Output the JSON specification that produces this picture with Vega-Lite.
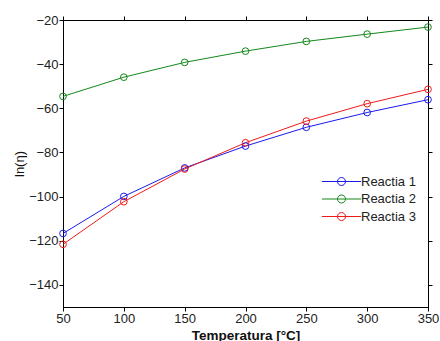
{
  "$schema": "https://vega.github.io/schema/vega-lite/v6.json",
  "width": 365,
  "height": 287,
  "autosize": "none",
  "padding": {"left": 63, "top": 20, "right": 12, "bottom": 34},
  "background": "white",
  "config": {
    "view": {"stroke": "black", "strokeWidth": 1},
    "font": "Liberation Sans",
    "axis": {"grid": false, "labelFlush": false, "domainColor": "black", "tickColor": "black", "labelColor": "#222", "labelFontSize": 13, "titleFontSize": 13, "titleFontWeight": "normal", "titleColor": "#111"}
  },
  "resolve": {"axis": {"x": "independent", "y": "independent"}},
  "data": {"values": [
    {"T": 50, "v": -116.7, "s": "Reactia 1"},
    {"T": 100, "v": -99.9, "s": "Reactia 1"},
    {"T": 150, "v": -87.0, "s": "Reactia 1"},
    {"T": 200, "v": -77.1, "s": "Reactia 1"},
    {"T": 250, "v": -68.6, "s": "Reactia 1"},
    {"T": 300, "v": -61.9, "s": "Reactia 1"},
    {"T": 350, "v": -56.1, "s": "Reactia 1"},
    {"T": 50, "v": -54.6, "s": "Reactia 2"},
    {"T": 100, "v": -45.9, "s": "Reactia 2"},
    {"T": 150, "v": -39.2, "s": "Reactia 2"},
    {"T": 200, "v": -34.1, "s": "Reactia 2"},
    {"T": 250, "v": -29.7, "s": "Reactia 2"},
    {"T": 300, "v": -26.4, "s": "Reactia 2"},
    {"T": 350, "v": -23.2, "s": "Reactia 2"},
    {"T": 50, "v": -121.6, "s": "Reactia 3"},
    {"T": 100, "v": -102.3, "s": "Reactia 3"},
    {"T": 150, "v": -87.5, "s": "Reactia 3"},
    {"T": 200, "v": -75.6, "s": "Reactia 3"},
    {"T": 250, "v": -65.8, "s": "Reactia 3"},
    {"T": 300, "v": -57.9, "s": "Reactia 3"},
    {"T": 350, "v": -51.4, "s": "Reactia 3"}
  ]},
  "layer": [
    {
      "mark": {"type": "line", "opacity": 0},
      "encoding": {
        "x": {"field": "T", "type": "quantitative", "scale": {"domain": [50, 350], "nice": false, "zero": false},
          "axis": {"orient": "bottom", "values": [50, 100, 150, 200, 250, 300, 350], "tickSize": 4, "labelPadding": 1, "title": "Temperatura [°C]", "titleFontWeight": "bold", "titleFontSize": 13.5, "titlePadding": 3}},
        "y": {"field": "v", "type": "quantitative", "scale": {"domain": [-150, -20], "nice": false, "zero": false},
          "axis": {"orient": "left", "values": [-140, -120, -100, -80, -60, -40, -20], "tickSize": 4, "labelPadding": 1, "title": "ln(η)", "titlePadding": 2}}
      }
    },
    {
      "mark": {"type": "line", "opacity": 0},
      "encoding": {
        "x": {"field": "T", "type": "quantitative", "axis": {"orient": "top", "values": [50, 100, 150, 200, 250, 300, 350], "tickSize": 4, "labels": true, "labelOpacity": 0, "labelFontSize": 4, "title": null}},
        "y": {"field": "v", "type": "quantitative", "axis": {"orient": "right", "values": [-140, -120, -100, -80, -60, -40, -20], "tickSize": 4, "labels": true, "labelOpacity": 0, "labelFontSize": 4, "title": null}}
      }
    },
    {
      "mark": {"type": "line", "strokeWidth": 1, "point": {"filled": false, "size": 45, "strokeWidth": 1}},
      "encoding": {
        "x": {"field": "T", "type": "quantitative", "axis": null},
        "y": {"field": "v", "type": "quantitative", "axis": null},
        "color": {"field": "s", "type": "nominal",
          "scale": {"domain": ["Reactia 1", "Reactia 2", "Reactia 3"], "range": ["#1a1aee", "#13881a", "#ee1a1a"]},
          "legend": {"title": null, "orient": "none", "legendX": 272, "legendY": 155, "padding": 0,
            "symbolType": "M-4.9,0L4.9,0M1,0A1,1,0,1,1,-1,0A1,1,0,1,1,1,0", "symbolSize": 64, "symbolStrokeWidth": 1, "symbolFillColor": "transparent",
            "labelOffset": 13, "labelFontSize": 13, "labelColor": "#222", "rowPadding": 3.5}}
      }
    }
  ]
}
